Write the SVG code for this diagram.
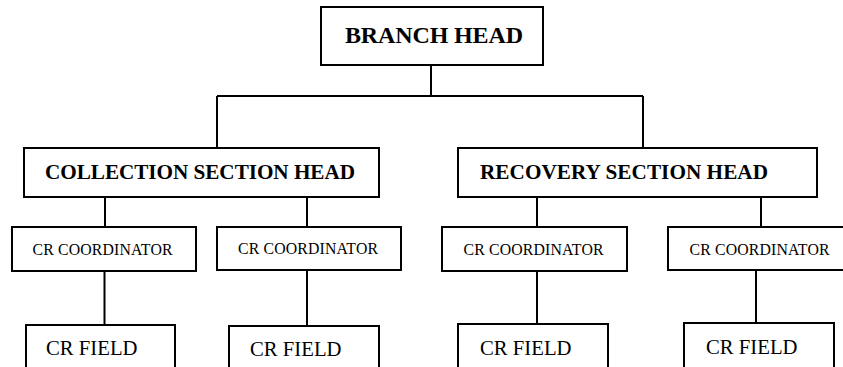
<svg xmlns="http://www.w3.org/2000/svg" width="843" height="367" viewBox="0 0 843 367">
<style>
.box{fill:#fff;stroke:#000;stroke-width:2}
.ln{fill:none;stroke:#000;stroke-width:2}
text{fill:#000}
</style>
<rect width="843" height="367" fill="#fff"/>
<g id="connectors">
<path class="ln" d="M431,65 V96 M217,96 H643 M217,96 V148 M643,96 V148"/>
<path class="ln" d="M105,197 V227 M307,197 V227 M537,197 V227 M761,197 V227"/>
<path class="ln" d="M104.5,271 V325 M307,270 V326 M537,271 V324 M756,270 V323"/>
</g>
<g id="branch-head">
<rect class="box" x="321" y="7" width="222" height="58"/>
<text x="345" y="43" font-family="Liberation Serif, serif" font-weight="bold" font-size="24" textLength="178">BRANCH HEAD</text>
</g>
<g id="collection-section-head">
<rect class="box" x="24" y="148" width="355" height="49"/>
<text x="45" y="179" font-family="Liberation Serif, serif" font-weight="bold" font-size="21.2" textLength="310">COLLECTION SECTION HEAD</text>
</g>
<g id="recovery-section-head">
<rect class="box" x="458" y="148" width="359" height="49"/>
<text x="480" y="179" font-family="Liberation Serif, serif" font-weight="bold" font-size="21.2" textLength="288">RECOVERY SECTION HEAD</text>
</g>
<g id="cr-coordinator-1">
<rect class="box" x="12" y="227" width="184" height="44"/>
<text x="32.5" y="255" font-family="Liberation Serif, serif" font-size="15.8" textLength="140">CR COORDINATOR</text>
</g>
<g id="cr-coordinator-2">
<rect class="box" x="217" y="227" width="184" height="43"/>
<text x="238" y="254" font-family="Liberation Serif, serif" font-size="15.8" textLength="140">CR COORDINATOR</text>
</g>
<g id="cr-coordinator-3">
<rect class="box" x="442" y="227" width="185" height="44"/>
<text x="463.5" y="254.7" font-family="Liberation Serif, serif" font-size="15.8" textLength="140">CR COORDINATOR</text>
</g>
<g id="cr-coordinator-4">
<rect class="box" x="668" y="227" width="186" height="43"/>
<text x="689.5" y="254.7" font-family="Liberation Serif, serif" font-size="15.8" textLength="140">CR COORDINATOR</text>
</g>
<g id="cr-field-1">
<rect class="box" x="26" y="325" width="149" height="60"/>
<text x="46" y="355" font-family="Liberation Serif, serif" font-size="20.7" textLength="91.5">CR FIELD</text>
</g>
<g id="cr-field-2">
<rect class="box" x="229" y="326" width="150" height="60"/>
<text x="250" y="356" font-family="Liberation Serif, serif" font-size="20.7" textLength="91.5">CR FIELD</text>
</g>
<g id="cr-field-3">
<rect class="box" x="458" y="324" width="150" height="60"/>
<text x="480" y="355" font-family="Liberation Serif, serif" font-size="20.7" textLength="91.5">CR FIELD</text>
</g>
<g id="cr-field-4">
<rect class="box" x="684" y="323" width="150" height="60"/>
<text x="706" y="353.5" font-family="Liberation Serif, serif" font-size="20.7" textLength="91.5">CR FIELD</text>
</g>
</svg>
